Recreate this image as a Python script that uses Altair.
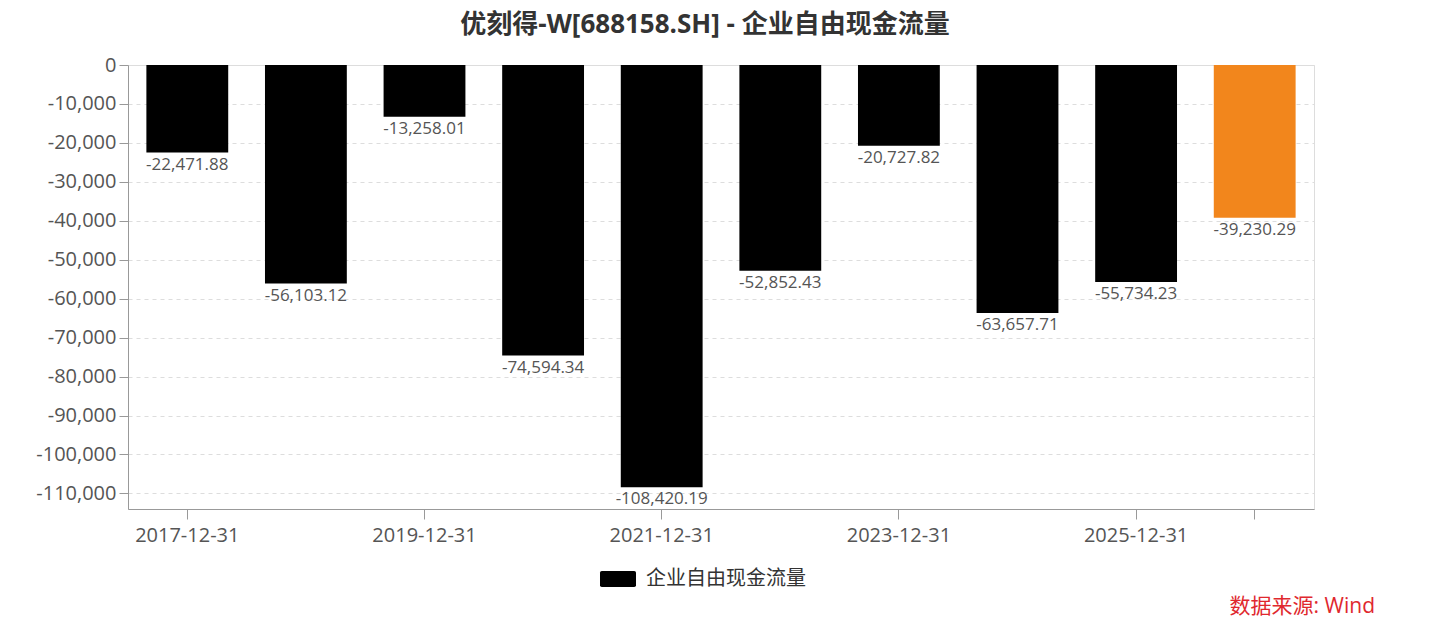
import altair as alt
import pandas as pd

# ---- data ----
dates = ["2017-12-31", "2018-12-31", "2019-12-31", "2020-12-31", "2021-12-31",
         "2022-12-31", "2023-12-31", "2024-12-31", "2025-12-31", "最新"]
values = [-22471.88, -56103.12, -13258.01, -74594.34, -108420.19,
          -52852.43, -20727.82, -63657.71, -55734.23, -39230.29]
series_name = "企业自由现金流量"
highlight = "最新"
y_ticks = [-110000, -100000, -90000, -80000, -70000, -60000, -50000,
           -40000, -30000, -20000, -10000, 0]
x_tick_dates = ["2017-12-31", "2019-12-31", "2021-12-31", "2023-12-31",
                "2025-12-31", "最新"]
title_text = "优刻得-W[688158.SH] - 企业自由现金流量"
source_text = "数据来源: Wind"

df = pd.DataFrame({"date": dates, "value": values, "series": series_name})

FONT = "Open Sans, Noto Sans CJK SC"
CJK = "Noto Sans CJK SC"
GREY = "#555555"
AXIS = "#999999"

x_enc = alt.X(
    "date:N", sort=dates, title=None,
    scale=alt.Scale(paddingInner=0.31, paddingOuter=0.155),
    axis=alt.Axis(
        values=x_tick_dates,
        labelExpr=f"datum.value == '{highlight}' ? '' : datum.label",
        labelAngle=0, labelFontSize=20, labelColor=GREY, labelFont=FONT,
        labelPadding=6, tickSize=10, tickColor=AXIS, domainColor=AXIS,
        grid=False,
    ),
)
y_enc = alt.Y(
    "value:Q", title=None,
    scale=alt.Scale(domain=[-114000, 0], nice=False, zero=False),
    axis=alt.Axis(
        values=y_ticks, format=",.0f", labelFontSize=20, labelColor=GREY,
        labelFont=FONT, tickSize=9, tickColor=AXIS, domainColor=AXIS,
        labelPadding=3, grid=True, gridDash=[4, 4], gridColor="#dddddd",
    ),
)

bars = alt.Chart(df).mark_bar().encode(
    x=x_enc,
    y=y_enc,
    color=alt.condition(
        f"datum.date == '{highlight}'",
        alt.value("#f2861c"),
        alt.Color(
            "series:N", title=None,
            scale=alt.Scale(domain=[series_name], range=["#000000"]),
            legend=alt.Legend(
                orient="none", legendX=480, legendY=504, direction="horizontal",
                symbolType="M-2,-0.7 Q-2,-0.9 -1.8,-0.9 H1.8 Q2,-0.9 2,-0.7 V0.7 Q2,0.9 1.8,0.9 H-1.8 Q-2,0.9 -2,0.7 Z",
                symbolSize=324, symbolStrokeWidth=0, symbolOpacity=1,
                labelFontSize=20, labelFont=CJK, labelColor="#333333",
                labelOffset=18,
            ),
        ),
    ),
)

labels = alt.Chart(df).mark_text(
    baseline="top", dy=4, fontSize=17, font=FONT, color=GREY
).encode(
    x=alt.X("date:N", sort=dates),
    y=alt.Y("value:Q"),
    text=alt.Text("value:Q", format=",.2f"),
)

source = alt.Chart(pd.DataFrame({"t": [source_text]})).mark_text(
    align="right", baseline="middle", fontSize=21, font=FONT, color="#e0282e"
).encode(
    x=alt.value(1247), y=alt.value(542), text="t:N"
)

chart = alt.layer(bars, labels, source).properties(
    width=1186, height=444,
    autosize=alt.AutoSizeParams(type="none"),
    padding={"left": 120, "top": 57, "right": 117, "bottom": 116},
    title=alt.TitleParams(
        title_text, fontSize=26, font=FONT, fontWeight="bold", color="#333333",
        anchor="middle", dx=-16, offset=17,
    ),
).configure_view(stroke="transparent", strokeWidth=0).configure(
    locale={"number": {"decimal": ".", "thousands": ",", "grouping": [3],
                       "currency": ["", ""], "minus": "-"}}
)

chart.save("out.html", embed_options={"renderer": "svg", "actions": False})
